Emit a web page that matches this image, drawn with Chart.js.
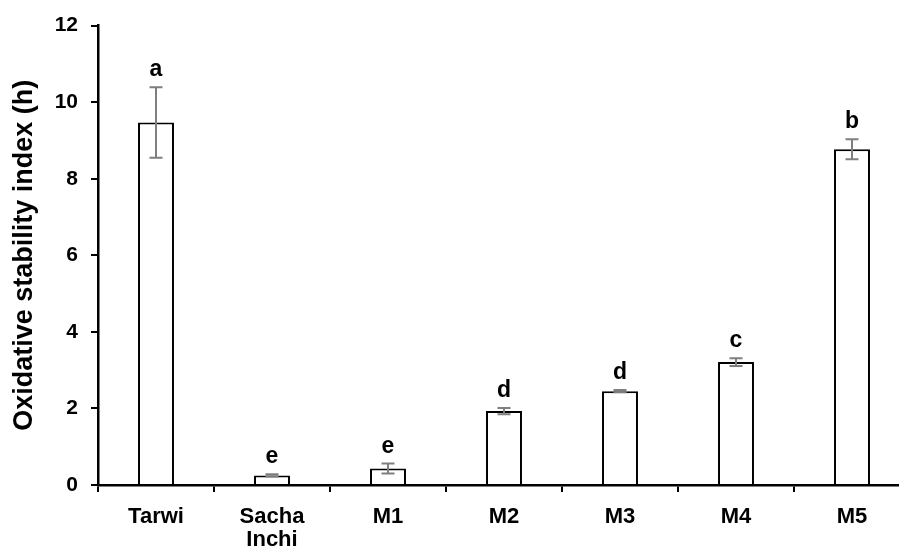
<!DOCTYPE html>
<html><head><meta charset="utf-8">
<script src="https://cdn.jsdelivr.net/npm/chart.js@4/dist/chart.umd.min.js"></script>
<style>
html,body{margin:0;padding:0;background:#fff;overflow:hidden;width:899px;height:551px}
#wrap{width:899px;height:551px;overflow:hidden;position:relative}
canvas{display:block}
</style>
</head><body><div id="wrap"><canvas id="c" width="915" height="551" style="width:915px;height:551px"></canvas></div>
<script>
const categories = ['Tarwi', ['Sacha', 'Inchi'], 'M1', 'M2', 'M3', 'M4', 'M5'];
const means = [9.47, 0.25, 0.43, 1.93, 2.45, 3.21, 8.77];
const errors = [0.92, 0.03, 0.13, 0.08, 0.03, 0.10, 0.26];
const letters = ['a', 'e', 'e', 'd', 'd', 'c', 'b'];
const yTicks = [0, 2, 4, 6, 8, 10, 12];

const FONT = 'Liberation Sans, Arial, sans-serif';

const errorPlugin = {
  id: 'errorBars',
  afterDatasetsDraw(chart) {
    const ctx = chart.ctx;
    const y = chart.scales.y;
    const meta = chart.getDatasetMeta(0);
    ctx.save();
    meta.data.forEach((bar, i) => {
      const cx = bar.x;
      const top = y.getPixelForValue(means[i] + errors[i]);
      const bot = y.getPixelForValue(means[i] - errors[i]);
      ctx.strokeStyle = '#7f7f7f';
      ctx.lineWidth = 2;
      ctx.beginPath();
      ctx.moveTo(cx, top); ctx.lineTo(cx, bot);
      ctx.moveTo(cx - 6.5, top); ctx.lineTo(cx + 6.5, top);
      ctx.moveTo(cx - 6.5, bot); ctx.lineTo(cx + 6.5, bot);
      ctx.stroke();
      ctx.fillStyle = '#000';
      ctx.font = 'bold 23px ' + FONT;
      ctx.textAlign = 'center';
      ctx.textBaseline = 'alphabetic';
      ctx.fillText(letters[i], cx, top - 11);
    });
    ctx.restore();
  }
};

new Chart(document.getElementById('c'), {
  type: 'bar',
  data: {
    labels: categories,
    datasets: [{
      data: means,
      backgroundColor: '#ffffff',
      borderColor: '#000000',
      borderWidth: 2,
      categoryPercentage: 1,
      barPercentage: 0.31
    }]
  },
  options: {
    responsive: false,
    devicePixelRatio: 1,
    animation: false,
    layout: { padding: { left: 0, top: 25, right: 5, bottom: 0 } },
    plugins: { legend: { display: false }, tooltip: { enabled: false } },
    scales: {
      x: {
        grid: { display: true, drawOnChartArea: false, drawTicks: true, tickLength: 7, color: '#000', lineWidth: 2, offset: true },
        border: { display: true, color: '#000', width: 2.5 },
        ticks: { color: '#000', font: { family: FONT, weight: 'bold', size: 22, lineHeight: 1.06 }, padding: 13, maxRotation: 0, autoSkip: false },
        afterFit: s => { s.height = 66; }
      },
      y: {
        min: 0, max: 12,
        afterBuildTicks: s => { s.ticks = yTicks.map(v => ({ value: v })); },
        grid: { display: true, drawOnChartArea: false, drawTicks: true, tickLength: 7, color: '#000', lineWidth: 2 },
        border: { display: true, color: '#000', width: 2.5 },
        ticks: { color: '#000', font: { family: FONT, weight: 'bold', size: 21 }, padding: 13 },
        title: { display: true, text: 'Oxidative stability index (h)', align: 'center', color: '#000', font: { family: FONT, weight: 'bold', size: 27 }, padding: { top: 8, bottom: 0 } },
        afterFit: s => { s.width = 98; }
      }
    }
  },
  plugins: [errorPlugin]
});
</script>
</body></html>
